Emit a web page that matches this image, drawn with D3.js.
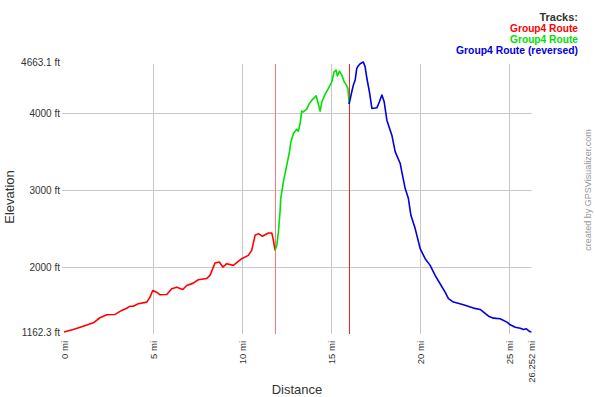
<!DOCTYPE html>
<html><head><meta charset="utf-8">
<script src="https://cdn.jsdelivr.net/npm/d3@7"></script>
<style>
html,body{margin:0;padding:0;background:#fff;}
svg{display:block;font-family:Arial,"Liberation Sans",sans-serif;}
</style></head>
<body>
<svg id="chart" width="595" height="397"></svg>
<script>
// Track 1 (red)
const redDist = [0,0.52,1.08,1.65,2.02,2.40,2.87,3.24,3.52,3.71,3.89,4.17,4.65,4.83,4.98,5.21,5.39,5.77,6.05,6.33,6.67,6.89,7.26,7.54,8.02,8.20,8.48,8.72,8.92,9.14,9.51,9.98,10.35,10.54,10.73,10.92,11.14,11.48,11.67,11.76,11.85];
const redElev = [1162,1195,1238,1282,1347,1386,1390,1442,1471,1497,1497,1529,1550,1614,1701,1679,1645,1649,1723,1744,1714,1766,1796,1840,1857,1896,2056,2069,2004,2048,2026,2113,2156,2221,2416,2438,2403,2445,2445,2351,2221];
// Track 2 (green)
const greenDist = [11.85,11.95,12.04,12.13,12.17,12.32,12.51,12.66,12.74,12.88,13.07,13.16,13.26,13.35,13.44,13.63,13.78,13.92,14.16,14.25,14.38,14.48,14.66,14.85,15.04,15.17,15.28,15.35,15.47,15.60,15.73,15.84,15.94,15.99,16.01];
const greenElev = [2221,2286,2458,2718,2892,3108,3325,3497,3627,3736,3792,3766,3866,4026,4017,4052,4126,4169,4225,4147,4026,4147,4243,4321,4407,4536,4558,4484,4545,4494,4407,4373,4321,4191,4117];
// Track 3 (blue, reversed)
const blueDist = [16.01,16.16,16.25,16.35,16.44,16.53,16.63,16.81,16.91,17.01,17.15,17.29,17.57,17.71,17.85,17.98,18.13,18.41,18.60,18.88,18.97,19.16,19.34,19.48,19.72,20.0,20.28,20.56,20.84,21.12,21.40,21.59,21.87,22.43,22.99,23.37,23.56,23.84,24.12,24.49,24.87,25.06,25.34,25.62,25.80,25.96,26.18,26.252];
const blueElev = [4117,4277,4364,4429,4581,4614,4640,4663.1,4600,4449,4277,4061,4069,4147,4234,4147,3909,3714,3497,3347,3238,3022,2892,2675,2503,2243,2113,2026,1896,1788,1679,1594,1550,1516,1472,1455,1420,1368,1342,1334,1290,1256,1225,1212,1195,1204,1165,1162.3];

const trackNames = ["Group4 Route","Group4 Route","Group4 Route (reversed)"];
const trackColors = ["#ff0000","#00e000","#0000e0"];
const xTickValues = [0,5,10,15,20,25,26.252];
const xTickLabels = ["0 mi","5 mi","10 mi","15 mi","20 mi","25 mi","26.252 mi"];
const yTickValues = [1162.3,2000,3000,4000,4663.1];
const yTickLabels = ["1162.3 ft","2000 ft","3000 ft","4000 ft","4663.1 ft"];
const yGridValues = [2000,3000,4000];
const xGridValues = [5,10,15,20,25];
const segmentBreaks = [11.85,16.01];

const svg = d3.select("#chart");
const x = d3.scaleLinear().domain([0,26.252]).range([64,531.5]);
const y = d3.scaleLinear().domain([1162.3,4663.1]).range([332,62]);

// grid
svg.append("g").selectAll("line").data(yGridValues).join("line")
  .attr("x1",62).attr("x2",531.5)
  .attr("y1",d=>Math.round(y(d))+0.5).attr("y2",d=>Math.round(y(d))+0.5)
  .attr("stroke","#c8c8c8").attr("stroke-width",1);
svg.append("g").selectAll("line").data(xGridValues).join("line")
  .attr("x1",d=>Math.round(x(d))+0.5).attr("x2",d=>Math.round(x(d))+0.5)
  .attr("y1",64).attr("y2",334)
  .attr("stroke","#c8c8c8").attr("stroke-width",1);

// segment markers
svg.append("g").selectAll("line").data(segmentBreaks).join("line")
  .attr("x1",d=>Math.round(x(d))+0.5).attr("x2",d=>Math.round(x(d))+0.5)
  .attr("y1",64).attr("y2",334)
  .attr("stroke",(d,i)=>i===0?"#ff7878":"#ff2020").attr("stroke-width",1);

// y labels
svg.append("g").selectAll("text").data(yTickValues).join("text")
  .attr("x",60).attr("y",d=>y(d)).attr("dy","0.35em")
  .attr("text-anchor","end").attr("font-size",10).attr("fill","#333")
  .text((d,i)=>yTickLabels[i]);
// x labels
svg.append("g").selectAll("text").data(xTickValues).join("text")
  .attr("transform",d=>`translate(${x(d)+3.5},341) rotate(-90)`)
  .attr("text-anchor","end").attr("font-size",9.5).attr("fill","#333")
  .text((d,i)=>xTickLabels[i]);

// tracks
const line = d3.line().x(d=>x(d[0])).y(d=>y(d[1]));
const tracks = [
  d3.zip(redDist,redElev),
  d3.zip(greenDist,greenElev),
  d3.zip(blueDist,blueElev)
];
svg.append("g").selectAll("path").data(tracks).join("path")
  .attr("d",line).attr("fill","none")
  .attr("stroke",(d,i)=>trackColors[i]).attr("stroke-width",1.6)
  .attr("stroke-linejoin","round");

// axis titles
svg.append("text").attr("x",297).attr("y",394).attr("text-anchor","middle")
  .attr("font-size",13).attr("fill","#333").text("Distance");
svg.append("text").attr("transform","translate(14,197) rotate(-90)")
  .attr("text-anchor","middle").attr("font-size",13).attr("fill","#333").text("Elevation");
svg.append("text").attr("transform","translate(591,190) rotate(-90)")
  .attr("text-anchor","middle").attr("font-size",9).attr("fill","#999").text("created by GPSVisualizer.com");

// legend
svg.append("text").attr("x",578).attr("y",21).attr("text-anchor","end")
  .attr("font-size",11).attr("font-weight","bold").attr("fill","#333").text("Tracks:");
const legW = [68,68,122];
svg.append("g").selectAll("text").data(trackNames).join("text")
  .attr("x",578).attr("y",(d,i)=>32+i*11).attr("text-anchor","end")
  .attr("font-size",10).attr("font-weight","bold").attr("fill",(d,i)=>trackColors[i])
  .attr("textLength",(d,i)=>legW[i]).attr("lengthAdjust","spacingAndGlyphs")
  .text(d=>d);
</script>
</body></html>
